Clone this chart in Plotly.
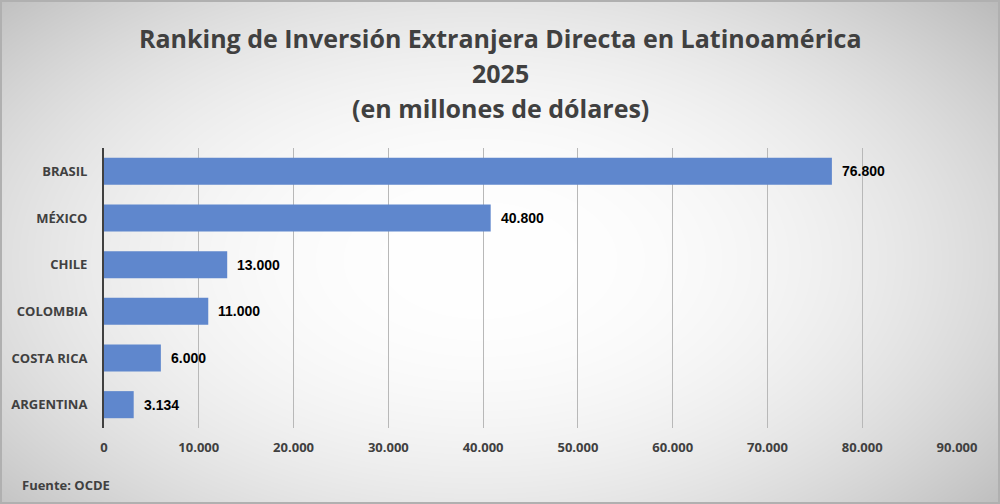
import base64, struct, zlib
import numpy as np
import plotly.graph_objects as go

categories = ["BRASIL", "MÉXICO", "CHILE", "COLOMBIA", "COSTA RICA", "ARGENTINA"]
values = [76800, 40800, 13000, 11000, 6000, 3134]
value_labels = ["76.800", "40.800", "13.000", "11.000", "6.000", "3.134"]
tick_vals = [0, 10000, 20000, 30000, 40000, 50000, 60000, 70000, 80000, 90000]
tick_text = ["0", "10.000", "20.000", "30.000", "40.000", "50.000", "60.000", "70.000", "80.000", "90.000"]
title_lines = ["Ranking de Inversión Extranjera Directa en Latinoamérica", "2025", "(en millones de dólares)"]

W, H = 1000, 504
ML, MR, MT, MB = 104, 43, 148, 76


def gradient_png(w, h):
    yy, xx = np.mgrid[0:h, 0:w].astype(float)
    d = np.sqrt(((xx - 480) / 580) ** 2 + ((yy - 260) / 340) ** 2)
    v = np.clip(255 - 48 * d ** 2.2, 0, 255).astype(np.uint8)
    rgb = np.stack([v, v, v], axis=-1)
    raw = b"".join(b"\x00" + rgb[i].tobytes() for i in range(h))

    def chunk(t, data):
        c = struct.pack(">I", len(data)) + t + data
        return c + struct.pack(">I", zlib.crc32(t + data) & 0xFFFFFFFF)

    png = b"\x89PNG\r\n\x1a\n" + chunk(b"IHDR", struct.pack(">IIBBBBB", w, h, 8, 2, 0, 0, 0))
    png += chunk(b"IDAT", zlib.compress(raw, 9)) + chunk(b"IEND", b"")
    return "data:image/png;base64," + base64.b64encode(png).decode()


pw, ph = W - ML - MR, H - MT - MB
font = "Open Sans"
dark = "#404040"


def px_x(x):
    return (x - ML) / pw


def px_y(y):
    return 1 - (y - MT) / ph


fig = go.Figure(go.Bar(
    x=values, y=categories, orientation="h",
    marker=dict(color="#5F87CD", line=dict(width=0)),
    hoverinfo="skip",
))

for v, c, t in zip(values, categories, value_labels):
    fig.add_annotation(x=v, y=c, text=t, showarrow=False, xanchor="left", xshift=8,
                       font=dict(family="Liberation Sans", size=14, color="#000000", weight="bold"))

for line, ypx in zip(title_lines, [38, 73, 108]):
    fig.add_annotation(xref="paper", yref="paper", x=px_x(500), y=px_y(ypx), text=line,
                       showarrow=False, xanchor="center", yanchor="middle",
                       font=dict(family=font, size=25, color=dark, weight="bold"))

fig.add_annotation(xref="paper", yref="paper", x=px_x(20), y=px_y(485),
                   text="Fuente: OCDE", showarrow=False, xanchor="left", yanchor="middle",
                   font=dict(family=font, size=13, color=dark, weight="bold"))

fig.update_layout(
    width=W, height=H,
    margin=dict(l=ML, r=MR, t=MT, b=MB, pad=0),
    paper_bgcolor="#ffffff", plot_bgcolor="rgba(0,0,0,0)",
    separators=",.",
    bargap=0.42,
    showlegend=False,
    xaxis=dict(range=[0, 90000], tickvals=tick_vals, ticktext=tick_text, showgrid=True,
               gridcolor="#b8b8b8", gridwidth=1, zeroline=False, showline=False,
               ticklabelstandoff=10,
               tickfont=dict(family=font, size=13, color=dark, weight="bold"), ticks="", ticklen=0),
    yaxis=dict(autorange="reversed", showline=True, linecolor=dark, linewidth=2, ticks="",
               showgrid=False, zeroline=False, ticklabelstandoff=12,
               tickfont=dict(family=font, size=13, color=dark, weight="bold")),
    images=[dict(source=gradient_png(W, H), xref="paper", yref="paper",
                 x=-ML / pw, y=1 + MT / ph, sizex=W / pw, sizey=H / ph,
                 xanchor="left", yanchor="top", sizing="stretch", layer="below")],
    shapes=[dict(type="rect", xref="paper", yref="paper", x0=-(ML - 1) / pw, x1=1 + (MR - 1) / pw,
                 y0=-(MB - 1) / ph, y1=1 + (MT - 1) / ph, line=dict(color="#b0b0b0", width=2), layer="above")],
)

fig.write_html("out.html", config={"displayModeBar": False},
               post_script="document.body.style.margin='0';document.body.style.overflow='hidden';")
